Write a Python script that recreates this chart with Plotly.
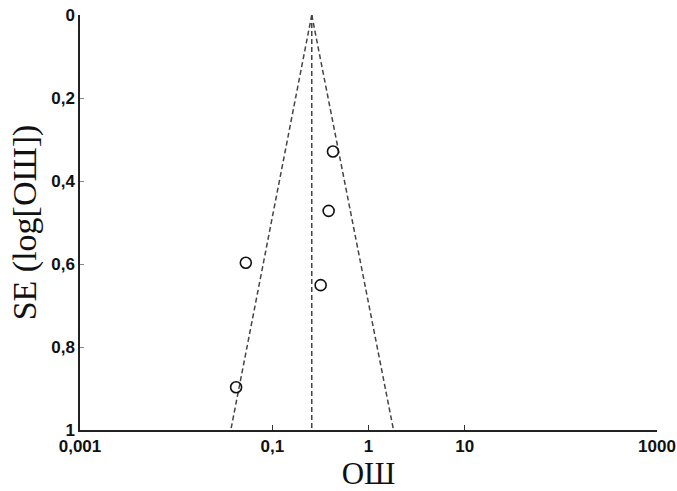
import plotly.graph_objects as go

# Study estimates (odds ratio, standard error of log OR)
study_or = [0.427, 0.385, 0.053, 0.318, 0.042]
study_se = [0.329, 0.472, 0.597, 0.651, 0.897]

# Funnel (pooled estimate and 95% limits)
pooled_or = 0.257
funnel_se = [0.0, 1.0]
funnel_left = [0.257, 0.037]
funnel_right = [0.257, 1.82]

x_tickvals = [0.001, 0.1, 1, 10, 1000]
x_ticktext = ["0,001", "0,1", "1", "10", "1000"]
y_tickvals = [0, 0.2, 0.4, 0.6, 0.8, 1]
y_ticktext = ["0", "0,2", "0,4", "0,6", "0,8", "1"]

dash_style = dict(color="#444444", width=1.5, dash="5px,3px")

fig = go.Figure()
fig.add_trace(go.Scatter(x=funnel_left, y=funnel_se, mode="lines", line=dash_style,
                         showlegend=False, hoverinfo="skip"))
fig.add_trace(go.Scatter(x=funnel_right, y=funnel_se, mode="lines", line=dash_style,
                         showlegend=False, hoverinfo="skip"))
fig.add_trace(go.Scatter(x=[pooled_or, pooled_or], y=funnel_se, mode="lines", line=dash_style,
                         showlegend=False, hoverinfo="skip"))
fig.add_trace(go.Scatter(x=study_or, y=study_se, mode="markers",
                         marker=dict(symbol="circle-open", size=11, color="#111111",
                                     line=dict(width=1.6, color="#111111")),
                         showlegend=False))

tick_font = dict(family="Liberation Sans, Arial, sans-serif", size=17, color="#111111", weight="bold")
xtitle_font = dict(family="Liberation Serif, Times New Roman, serif", size=31, color="#111111")
ytitle_font = dict(family="Liberation Serif, Times New Roman, serif", size=34, color="#111111")

fig.update_layout(
    width=677, height=491,
    margin=dict(l=80, r=20, t=15, b=61, autoexpand=False),
    paper_bgcolor="white", plot_bgcolor="white",
    xaxis=dict(
        type="log", range=[-3, 3],
        tickvals=x_tickvals, ticktext=x_ticktext,
        ticks="inside", ticklen=5, tickwidth=1, tickcolor="#333333",
        showline=True, linecolor="#222222", linewidth=1.5,
        showgrid=False, zeroline=False,
        tickfont=tick_font,
        ticklabeloverflow="allow",
        title=dict(text="ОШ", font=xtitle_font, standoff=9),
        automargin=False,
    ),
    yaxis=dict(
        range=[1, 0],
        tickvals=y_tickvals, ticktext=y_ticktext,
        ticks="inside", ticklen=4, tickwidth=1, tickcolor="#888888",
        showline=True, linecolor="#222222", linewidth=1.5,
        showgrid=False, zeroline=False,
        tickfont=tick_font,
        ticklabeloverflow="allow",
        title=dict(text="SE (log[ОШ])", font=ytitle_font, standoff=4),
        automargin=False,
    ),
)

# Remove the browser's default 8px body margin so the figure fills the window exactly.
fig.write_html("out.html", config={"displayModeBar": False},
               post_script="document.body.style.margin='0';document.body.style.overflow='hidden';")
